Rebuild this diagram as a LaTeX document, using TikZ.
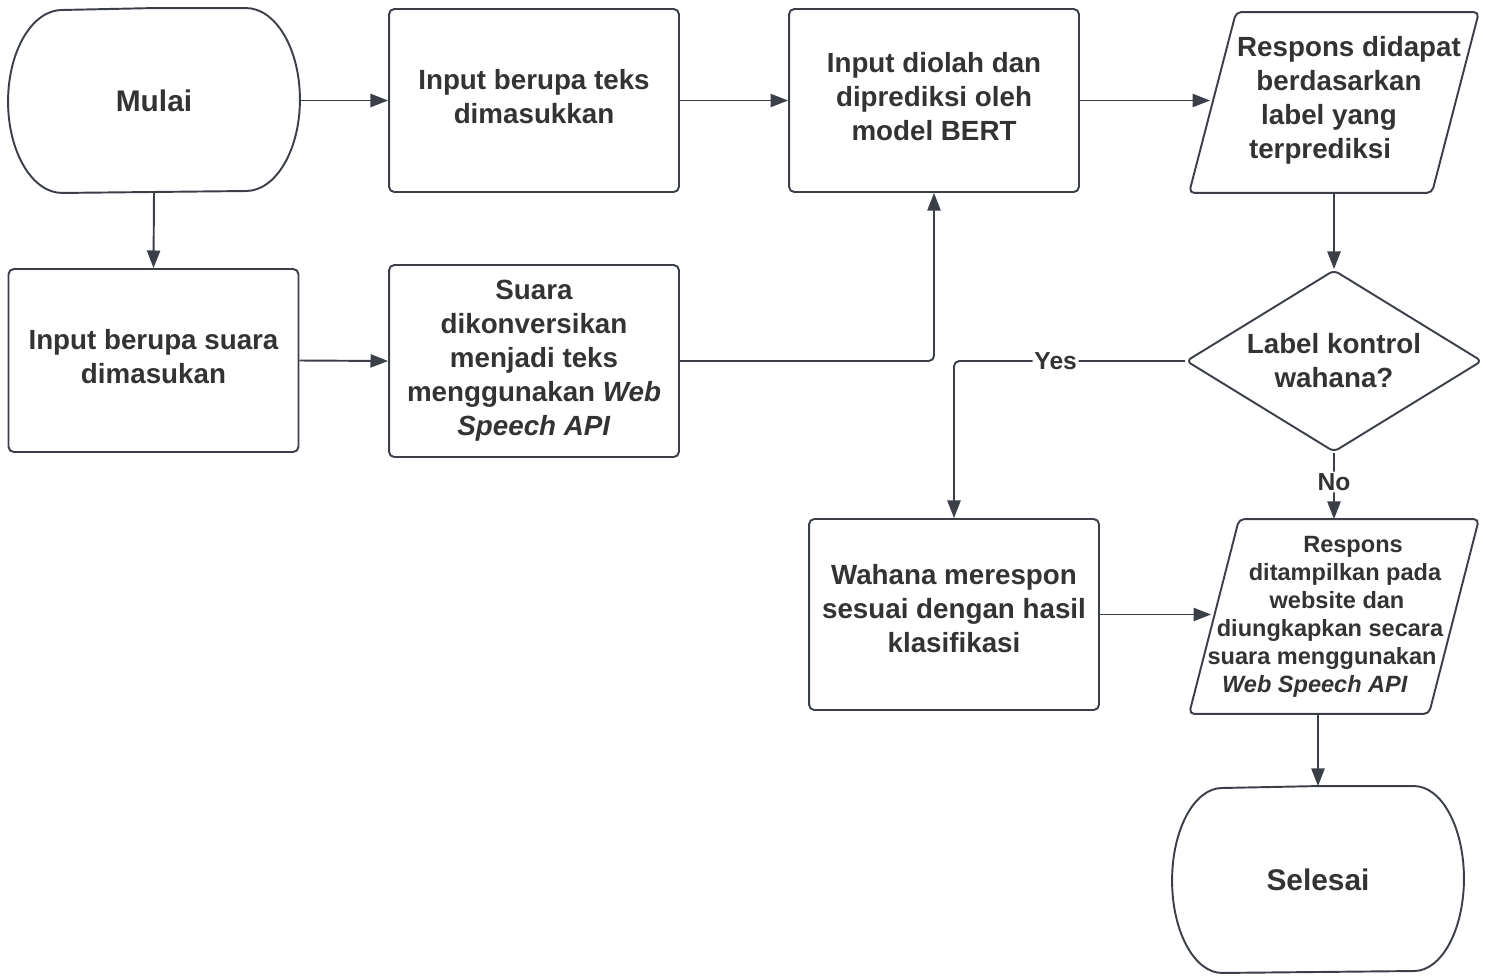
\documentclass[tikz,border=0pt]{standalone}
\usepackage{fontspec}
\setmainfont{Liberation Sans}
\usetikzlibrary{arrows.meta,shapes.geometric}
\definecolor{linegray}{HTML}{3A3F48}
\definecolor{textgray}{HTML}{333333}

\begin{document}
\begin{tikzpicture}[x=0.02cm, y=-0.02cm, line width=1.1pt, linegray, rounded corners=3pt,
	arrows={-Triangle[length=10pt,width=7.5pt]},
	every node/.style={text=textgray, align=center, inner sep=0pt,
		font=\fontsize{15.8}{19.3}\selectfont\bfseries},
	box/.style={draw=linegray, minimum width=5.8cm, minimum height=3.66cm, text depth=0.16cm},
	terminal/.style={minimum width=5.8cm, minimum height=3.66cm,
		font=\fontsize{17}{20}\selectfont\bfseries},
	data/.style={minimum width=5.76cm, minimum height=3.58cm},
	decision/.style={draw=linegray, diamond, aspect=1.63, minimum width=5.92cm, minimum height=3.64cm},
	branch/.style={fill=white, inner sep=1pt, font=\fontsize{14}{16}\selectfont\bfseries}]
	\useasboundingbox (0,0) rectangle (1486,977);

	\node [terminal] (start) at (154,100.5) {Mulai};
	\node [box] (teks) at (534,100.5) {Input berupa teks\\dimasukkan};
	\node [box] (bert) at (934,100.5) {Input diolah dan\\diprediksi oleh\\model BERT};
	\node [data, text depth=0.2cm] (respons) at (1334,102.5)
		{\hspace*{0.6cm}Respons didapat\\\hspace*{0.2cm}berdasarkan\\\hspace*{-0.2cm}label yang\\\hspace*{-0.56cm}terprediksi};

	\node [box] (suara) at (153.5,360.5) {Input berupa suara\\dimasukan};
	\node [box, minimum height=3.84cm, text depth=0.12cm] (konversi) at (534,361) {Suara\\dikonversikan\\menjadi teks\\menggunakan \textit{Web}\\\textit{Speech API}};
	\node [decision] (kontrol) at (1334,361) {Label kontrol\\wahana?};

	\node [box, minimum height=3.82cm, text depth=0.25cm] (wahana) at (954,614.5) {Wahana merespon\\sesuai dengan hasil\\klasifikasi};
	\node [data, minimum height=3.86cm, font=\fontsize{13.4}{15.9}\selectfont\bfseries] (tampil) at (1334,616.5)
		{\hspace*{0.76cm}Respons\\\hspace*{0.44cm}ditampilkan pada\\\hspace*{0.12cm}website dan\\\hspace*{-0.16cm}diungkapkan secara\\\hspace*{-0.48cm}suara menggunakan\\\hspace*{-0.76cm}\textit{Web Speech API}};
	\node [terminal, minimum height=3.7cm] (selesai) at (1318,879.5) {Selesai};

	% outlines of terminals and data shapes
	\draw [sharp corners] (start.north) -- ([xshift=-1.08cm]start.north east)
		arc [start angle=90, end angle=-90, x radius=1.08cm, y radius=1.83cm]
		-- ([xshift=1.08cm]start.south west)
		arc [start angle=270, end angle=90, x radius=1.08cm, y radius=1.83cm] -- cycle;
	\draw [sharp corners] (selesai.north) -- ([xshift=-1cm]selesai.north east)
		arc [start angle=90, end angle=-90, x radius=1cm, y radius=1.85cm]
		-- ([xshift=1cm]selesai.south west)
		arc [start angle=270, end angle=90, x radius=1cm, y radius=1.85cm] -- cycle;
	\draw ([xshift=0.94cm]respons.north west) -- (respons.north east)
		-- ([xshift=-0.94cm]respons.south east) -- (respons.south west) -- cycle;
	\draw ([xshift=1cm]tampil.north west) -- (tampil.north east)
		-- ([xshift=-1cm]tampil.south east) -- (tampil.south west) -- cycle;

	\draw (start.east) to (teks.west);
	\draw (teks.east) to (bert.west);
	\draw (bert.east) to ([xshift=0.42cm]bert.east -| respons.west);
	\draw (start.south) to (suara.north);
	\draw (suara.east) to (konversi.west);
	\draw (konversi.east) -| (bert.south);
	\draw (respons.south) to (kontrol.north);
	\draw (kontrol.west) -| node [branch, pos=0.28] {Yes} (wahana.north);
	\draw (kontrol.south) to node [branch, pos=0.44] {No} (tampil.north);
	\draw (wahana.east) to ([xshift=0.44cm]wahana.east -| tampil.west);
	\draw (tampil.south -| selesai.north) to (selesai.north);
\end{tikzpicture}
\end{document}
